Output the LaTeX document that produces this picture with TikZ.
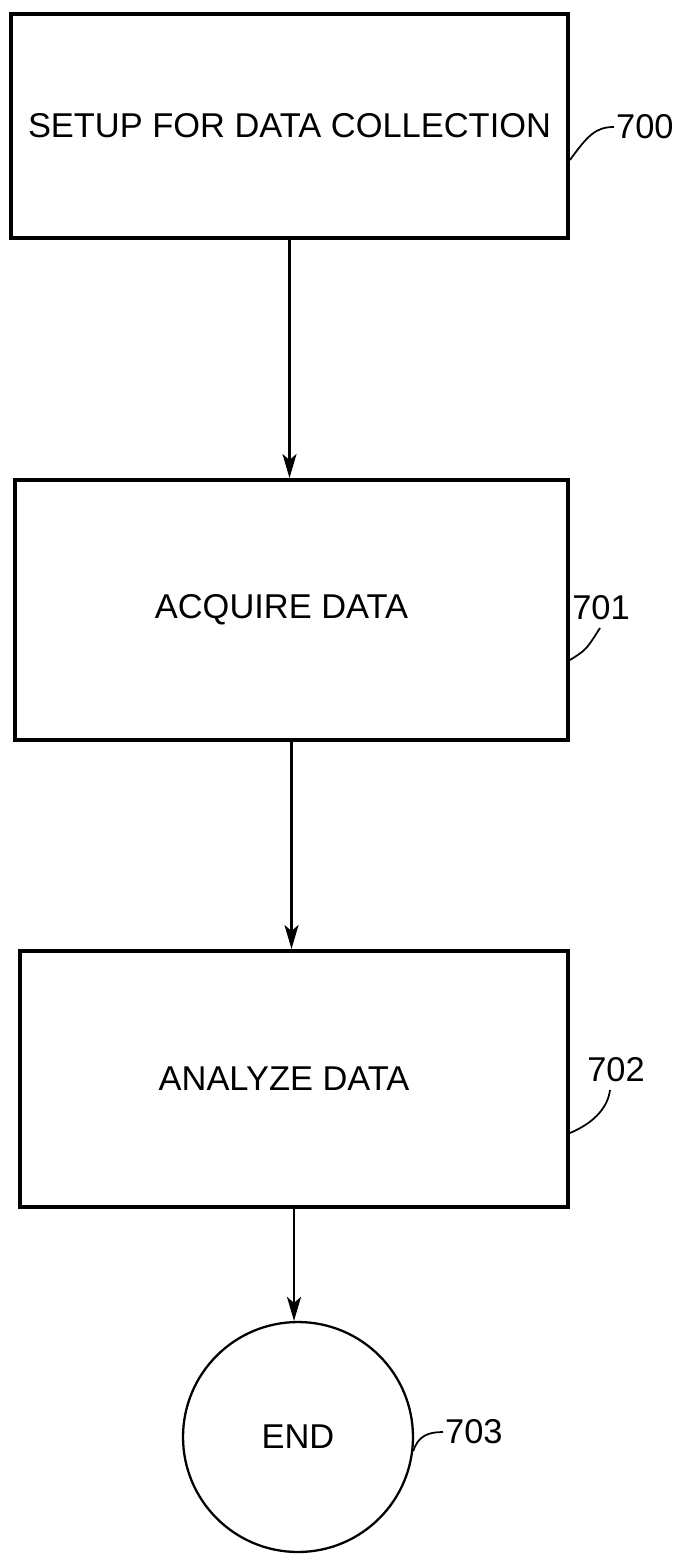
\documentclass[tikz,border=0pt]{standalone}
\usepackage{fontspec}
\setmainfont{Liberation Sans}
\usetikzlibrary{arrows.meta}
\tikzset{
  stepbox/.style={draw,line width=2.3pt,font=\fontsize{19.6}{22}\selectfont},
  endcirc/.style={draw,circle,line width=1.3pt,minimum size=4.6cm,inner sep=0pt,font=\fontsize{19.6}{22}\selectfont},
  flow/.style={line width=1.5pt,-{Stealth[length=4.8mm,width=2.8mm,inset=1.2mm]}},
  refnum/.style={font=\fontsize{19.6}{22}\selectfont,inner sep=1pt},
  lead/.style={line width=1pt}
}
\begin{document}
\begin{tikzpicture}[x=0.02cm,y=-0.02cm]
\useasboundingbox (0,0) rectangle (690,1554);
\node[stepbox,minimum width=11.14cm,minimum height=4.48cm] (setup) at (289.5,126) {SETUP FOR DATA COLLECTION};
\node[stepbox,minimum width=11.06cm,minimum height=5.2cm] (acquire) at (291.5,610) {ACQUIRE DATA\kern0.4cm};
\node[stepbox,minimum width=10.96cm,minimum height=5.12cm] (analyze) at (294,1079) {ANALYZE DATA\kern0.4cm};
\node[endcirc] (end) at (298,1437) {END};
\draw[flow] (setup) -- (setup |- acquire.north);
\draw[flow] (acquire) -- (acquire |- analyze.north);
\draw[flow] (analyze) -- (analyze |- end.north);
\node[refnum,anchor=west] (n700) at (614,127) {700};
\node[refnum] (n701) at (601,608) {701};
\node[refnum] (n702) at (616,1070) {702};
\node[refnum,anchor=west] (n703) at (443,1432) {703};
\coordinate (c700) at (setup.east |- 0,160);
\coordinate (c701) at (acquire.east |- 0,660);
\coordinate (c702) at (analyze.east |- 0,1133);
\coordinate (c703) at (end.-7);
\draw[lead] (c700) .. controls (588,135) and (596,127) .. (n700.west);
\draw[lead] (c701) .. controls (586,650) .. (600,628);
\draw[lead] (c702) .. controls (596,1122) and (608,1106) .. (610,1090);
\draw[lead] (c703) .. controls (418,1436) and (428,1432) .. (n703.west);
\end{tikzpicture}
\end{document}
